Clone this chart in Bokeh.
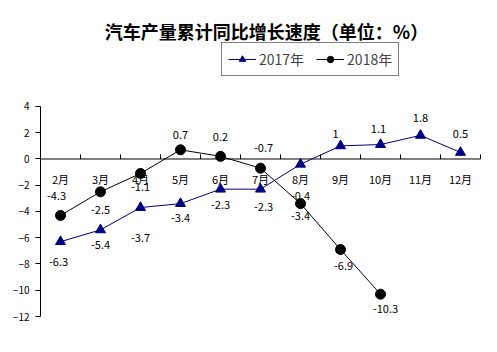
from bokeh.plotting import figure
from bokeh.models import Range1d, Label, Legend, LegendItem, ColumnDataSource
from bokeh.core.properties import value
from bokeh.embed import file_html
from bokeh.resources import INLINE

months = ["2月", "3月", "4月", "5月", "6月", "7月", "8月", "9月", "10月", "11月", "12月"]
v2017 = [-6.3, -5.4, -3.7, -3.4, -2.3, -2.3, -0.4, 1, 1.1, 1.8, 0.5]
v2018 = [-4.3, -2.5, -1.1, 0.7, 0.2, -0.7, -3.4, -6.9, -10.3]
y_ticks = [-12, -10, -8, -6, -4, -2, 0, 2, 4]

# label placement (style only): screen offsets for each data label
off2017 = [(-2, 20), (0, 15), (0, 30), (0, 14), (0, 16), (3, 18), (0, 32), (-5, -12), (-2, -16), (0, -17), (0, -18)]
off2018 = [(-4, -19), (0, 18), (0, 14), (0, -15), (0, -19), (3, -20), (0, 12), (3, 16), (5, 15)]

FONT = "Noto Sans CJK SC"

p = figure(width=497, height=352, output_backend="svg", toolbar_location=None,
           x_range=Range1d(-0.5, 10.925), y_range=Range1d(-12, 12.076),
           min_border_left=40, min_border_right=0, min_border_top=0, min_border_bottom=36,
           x_axis_location=None)
p.outline_line_color = None
p.grid.visible = False
p.background_fill_color = "white"
p.border_fill_color = "white"

ax = p.yaxis[0]
ax.ticker = y_ticks
ax.bounds = (-12, 4)
ax.axis_line_color = "black"
ax.axis_line_width = 1
ax.major_tick_line_color = "black"
ax.major_tick_out = 5
ax.major_tick_in = 0
ax.minor_tick_line_color = None
ax.major_label_text_font = FONT
ax.major_label_text_font_size = "10px"
ax.major_label_text_color = "black"
ax.major_label_standoff = 6

# horizontal category axis at y = 0
xs_idx = list(range(len(months)))
p.segment(x0=[-0.5], y0=[0], x1=[len(months) - 0.5], y1=[0], line_color="black", line_width=1)
tick_x = [i + 0.5 for i in xs_idx]
p.segment(x0=tick_x, y0=[0] * len(tick_x), x1=tick_x, y1=[0.35] * len(tick_x), line_color="black", line_width=1)
p.text(x=xs_idx, y=[0] * len(months), text=months, text_align="center", text_baseline="middle",
       y_offset=20, text_font=value(FONT), text_font_size="11px", text_color="black")

s17 = ColumnDataSource(dict(x=xs_idx, y=v2017, t=[str(v) for v in v2017],
                            dx=[o[0] for o in off2017], dy=[o[1] for o in off2017]))
x18 = xs_idx[:len(v2018)]
s18 = ColumnDataSource(dict(x=x18, y=v2018, t=[str(v) for v in v2018],
                            dx=[o[0] for o in off2018], dy=[o[1] for o in off2018]))

l17 = p.line("x", "y", source=s17, line_color="#000080", line_width=1)
m17 = p.scatter("x", "y", source=s17, marker="triangle", size=10, fill_color="#000080", line_color="#000080")
l18 = p.line("x", "y", source=s18, line_color="black", line_width=1)
m18 = p.scatter("x", "y", source=s18, marker="circle", size=10, fill_color="black", line_color="black")

p.text("x", "y", text="t", source=s17, x_offset="dx", y_offset="dy", text_align="center",
       text_baseline="middle", text_font=value(FONT), text_font_size="11px", text_color="black")
p.text("x", "y", text="t", source=s18, x_offset="dx", y_offset="dy", text_align="center",
       text_baseline="middle", text_font=value(FONT), text_font_size="11px", text_color="black")

title = Label(x=5.15, y=9.75, text="汽车产量累计同比增长速度（单位：%）",
              text_align="center", text_baseline="middle", text_font=FONT, text_font_size="18px",
              text_font_style="bold", text_color="black")
p.add_layout(title)

legend = Legend(items=[LegendItem(label="2017年", renderers=[l17, m17]),
                       LegendItem(label="2018年", renderers=[l18, m18])],
                orientation="horizontal", location=(181, 240))
legend.label_text_font = FONT
legend.label_text_font_size = "14px"
legend.border_line_color = "black"
legend.border_line_width = 1
legend.background_fill_alpha = 1
legend.padding = 6
legend.spacing = 12
legend.glyph_width = 28
legend.glyph_height = 16
legend.label_height = 16
legend.label_standoff = 3
legend.margin = 0
p.add_layout(legend, "center")

open("out.html", "w").write(file_html(p, INLINE))
